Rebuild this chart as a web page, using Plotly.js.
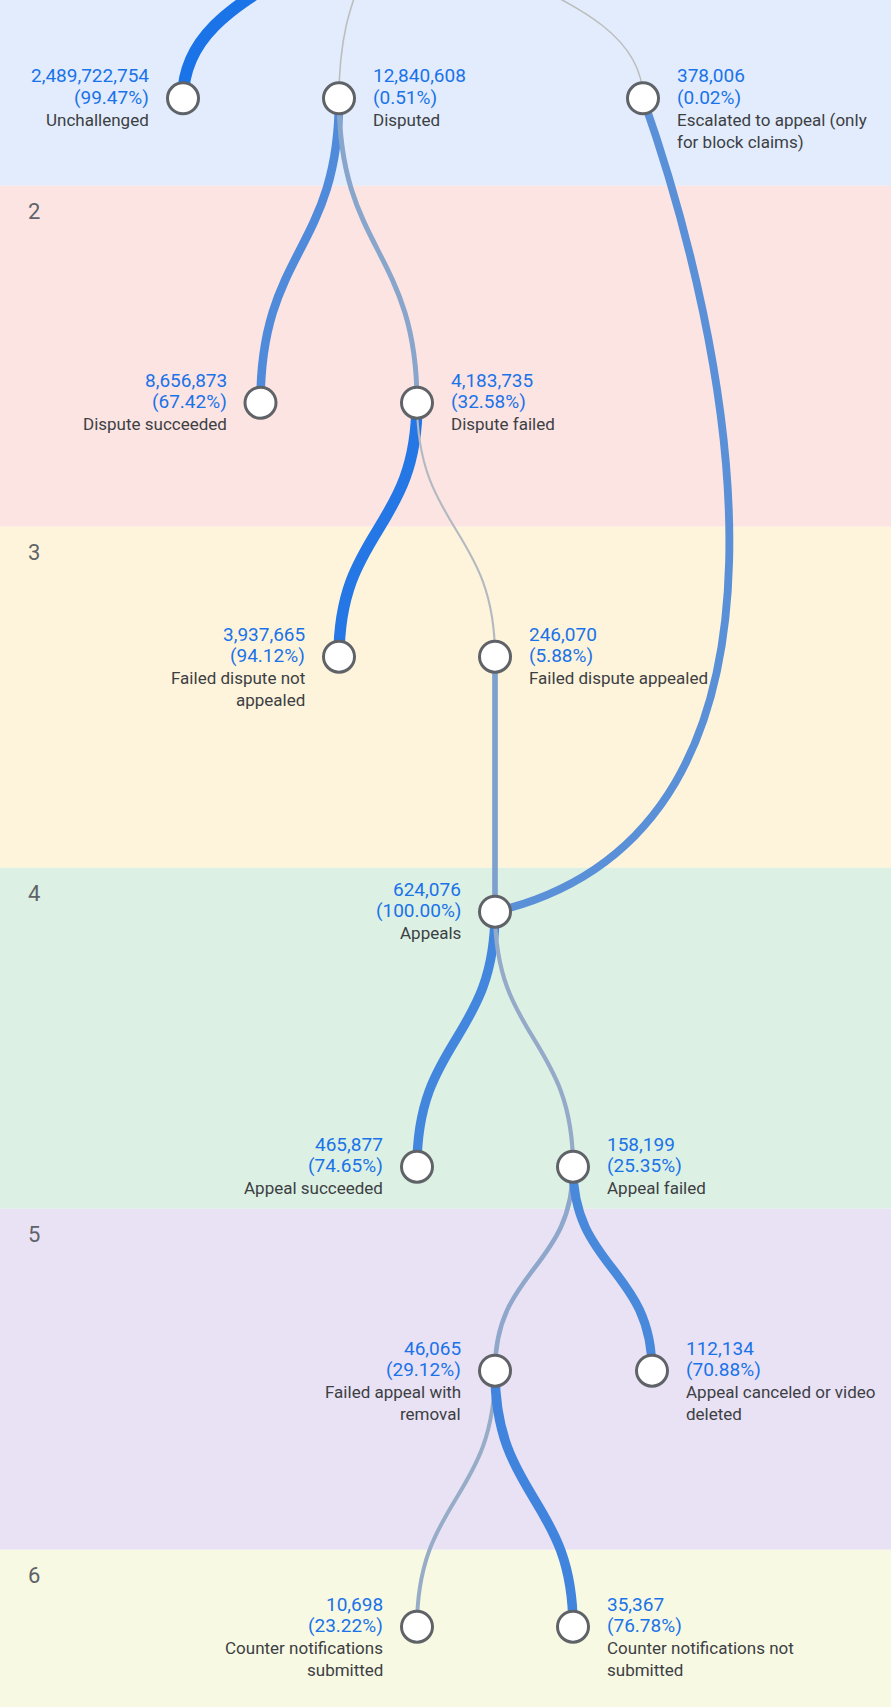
<!DOCTYPE html>
<html>
<head>
<meta charset="utf-8">
<script src="https://cdn.plot.ly/plotly-3.0.1.min.js"></script>
<style>
  html, body { margin: 0; padding: 0; background: #ffffff; }
  #chart { width: 891px; height: 1707px; }
</style>
</head>
<body>
<div id="chart"></div>
<script>
// ------------------------------------------------------------------
// DATA
// ------------------------------------------------------------------
const nodeNames = [
  "Unchallenged",
  "Disputed",
  "Escalated to appeal (only<br>for block claims)",
  "Dispute succeeded",
  "Dispute failed",
  "Failed dispute not<br>appealed",
  "Failed dispute appealed",
  "Appeals",
  "Appeal succeeded",
  "Appeal failed",
  "Failed appeal with<br>removal",
  "Appeal canceled or video<br>deleted",
  "Counter notifications<br>submitted",
  "Counter notifications not<br>submitted"
];
const nodeCounts = [
  2489722754, 12840608, 378006,
  8656873, 4183735,
  3937665, 246070,
  624076,
  465877, 158199,
  46065, 112134,
  10698, 35367
];
const nodePercents = [
  99.47, 0.51, 0.02,
  67.42, 32.58,
  94.12, 5.88,
  100.00,
  74.65, 25.35,
  29.12, 70.88,
  23.22, 76.78
];
// tree links (-1 = root of the tree, above the visible area)
const edgeFrom = [-1, -1, -1, 1, 1, 4, 4, 6, 2, 7, 7, 9, 9, 10, 10];
const edgeTo   = [ 0,  1,  2, 3, 4, 5, 6, 7, 7, 8, 9, 10, 11, 12, 13];
const levelLabels = ["1", "2", "3", "4", "5", "6"];

// ------------------------------------------------------------------
// LAYOUT (positions in axis units = page pixels) & STYLE
// ------------------------------------------------------------------
const nodeX = [183, 339, 643, 260.5, 417, 339, 495, 495, 417, 573, 495, 652, 417, 573];
const nodeY = [98.3, 98.3, 98.3, 402.7, 402.7, 656.7, 656.7, 911.7,
               1166.7, 1166.7, 1370.7, 1370.7, 1626.7, 1626.7];
const textSide = ["L","R","R","L","R","L","R","L","L","R","L","R","L","R"];
const rootPos = [385, -146];
const bandTop0 = -155.3, bandH = 341;
const bandColors = ["#e2ecfd", "#fce4e3", "#fef4dc", "#dcf0e4", "#e9e2f5", "#f8f9e3"];
// special swinging link (escalated -> appeals): control point offsets
const swingCtrl = { "2-7": [82, 232, 345, -82] };

const W = 891, H = 1707;
const rootCount = nodeCounts[0] + nodeCounts[1] + nodeCounts[2];
const lowCol = [189, 189, 189], highCol = [26, 115, 232];

function posOf(i) { return i < 0 ? rootPos : [nodeX[i], nodeY[i]]; }
function countOf(i) { return i < 0 ? rootCount : nodeCounts[i]; }
function pt(p) { return p[0].toFixed(2) + "," + p[1].toFixed(2); }

const shapes = [];
// level bands
levelLabels.forEach((lab, i) => {
  const top = bandTop0 + i * bandH;
  shapes.push({
    type: "rect", xref: "paper", yref: "y", x0: 0, x1: 1, y0: top, y1: top + bandH,
    fillcolor: bandColors[i], line: { width: 0 }, layer: "below"
  });
});
// links (cubic curves in data coordinates)
for (let e = 0; e < edgeFrom.length; e++) {
  const f = edgeFrom[e], t = edgeTo[e];
  const P0 = posOf(f), P3 = posOf(t);
  const a = countOf(f), b = countOf(t);
  const r = Math.min(a, b) / Math.max(a, b);
  let P1, P2;
  const key = f + "-" + t;
  if (swingCtrl[key]) {
    const o = swingCtrl[key];
    P1 = [P0[0] + o[0], P0[1] + o[1]];
    P2 = [P3[0] + o[2], P3[1] + o[3]];
  } else {
    const my = (P0[1] + P3[1]) / 2;
    P1 = [P0[0], my];
    P2 = [P3[0], my];
  }
  const col = lowCol.map((c, i) => Math.round(c + (highCol[i] - c) * r));
  shapes.push({
    type: "path", xref: "x", yref: "y", layer: "below",
    path: "M" + pt(P0) + " C" + pt(P1) + " " + pt(P2) + " " + pt(P3),
    line: { color: "rgb(" + col.join(",") + ")", width: 1.5 + 10.5 * r },
    fillcolor: "rgba(0,0,0,0)"
  });
}

const traces = [{
  type: "scatter", mode: "markers", x: nodeX, y: nodeY, hoverinfo: "skip",
  marker: { size: 31, color: "#ffffff", line: { color: "#5f6368", width: 3 } },
  showlegend: false
}];

const numFont = { family: "Roboto, 'Noto Sans', sans-serif", size: 19, color: "#1a73e8" };
const labFont = { family: "Roboto, 'Noto Sans', sans-serif", size: 17, color: "#3c4043" };
const annotations = [];
for (let i = 0; i < nodeNames.length; i++) {
  const right = textSide[i] === "R";
  const x = nodeX[i] + (right ? 33 : -33);
  const anchor = right ? "left" : "right";
  const lines = [
    { text: nodeCounts[i].toLocaleString("en-US"), dy: -22.5, font: numFont },
    { text: "(" + nodePercents[i].toFixed(2) + "%)", dy: -1, font: numFont }
  ];
  nodeNames[i].split("<br>").forEach((s, k) => lines.push({ text: s, dy: 21.7 + 21.7 * k, font: labFont }));
  lines.forEach(l => annotations.push({
    xref: "x", yref: "y", x: x, y: nodeY[i] + l.dy, text: l.text,
    xanchor: anchor, yanchor: "middle", align: right ? "left" : "right",
    showarrow: false, font: l.font, borderpad: 0
  }));
}
levelLabels.forEach((lab, i) => {
  const top = bandTop0 + i * bandH;
  annotations.push({
    xref: "x", yref: "y", x: 27, y: top + 26, text: lab, xanchor: "left", yanchor: "middle",
    showarrow: false, borderpad: 0,
    font: { family: "Roboto, 'Noto Sans', sans-serif", size: 22, color: "#5f6368" }
  });
});

const layout = {
  width: W, height: H,
  margin: { l: 0, r: 0, t: 0, b: 0, pad: 0 },
  paper_bgcolor: "#ffffff", plot_bgcolor: "rgba(0,0,0,0)",
  xaxis: { range: [0, W], visible: false, fixedrange: true },
  yaxis: { range: [H, 0], visible: false, fixedrange: true },
  shapes: shapes, annotations: annotations, showlegend: false
};
Plotly.newPlot("chart", traces, layout, { staticPlot: true, displayModeBar: false });
</script>
</body>
</html>
